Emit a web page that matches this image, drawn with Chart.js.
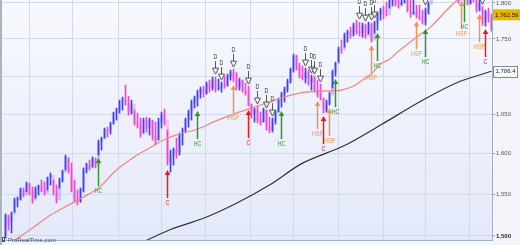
<!DOCTYPE html>
<html>
<head>
<meta charset="utf-8">
<script src="https://cdn.jsdelivr.net/npm/chart.js@4.4.0/dist/chart.umd.min.js"></script>
<style>
  html, body { margin: 0; padding: 0; background: #f3f5fb; }
  #wrap { width: 520px; height: 245px; }
</style>
</head>
<body>
<div id="wrap"><canvas id="chart" width="520" height="245"></canvas></div>
<script>
// daily bars, one entry per session
const highs = [
  1526.0, 1524.8, 1528.4, 1545.2, 1546.5, 1557.4, 1557.4, 1564.7, 1563.5, 1558.6,
  1558.6, 1561.0, 1567.2, 1564.7, 1570.8, 1575.8, 1567.2, 1561.0, 1569.6, 1579.5,
  1598.1, 1594.3, 1588.1, 1567.2, 1555.0, 1557.4, 1582.0, 1588.1, 1591.8, 1595.6,
  1594.3, 1616.9, 1620.7, 1632.2, 1633.4, 1639.8, 1652.7, 1657.9, 1668.3, 1672.2,
  1688.0, 1673.5, 1668.3, 1655.3, 1651.4, 1644.9, 1644.9, 1646.2, 1644.9, 1642.4,
  1639.8, 1644.9, 1652.7, 1656.6, 1629.6, 1604.4, 1606.9, 1619.5, 1625.9, 1632.2,
  1644.9, 1655.3, 1668.3, 1673.5, 1681.4, 1685.4, 1686.7, 1692.0, 1694.6, 1698.6,
  1698.6, 1695.9, 1692.0, 1699.9, 1702.5, 1707.9, 1709.2, 1704.6, 1697.3, 1694.6,
  1690.7, 1686.7, 1663.1, 1657.9, 1660.5, 1652.7, 1657.9, 1655.3, 1646.2, 1644.9,
  1655.3, 1670.9, 1678.7, 1685.4, 1695.9, 1710.6, 1729.4, 1728.0, 1717.3, 1713.3,
  1710.6, 1707.9, 1701.2, 1699.9, 1694.6, 1689.3, 1670.9, 1668.3, 1678.7, 1707.9,
  1718.6, 1738.9, 1748.4, 1758.1, 1762.2, 1766.3, 1771.9, 1776.0, 1773.2, 1771.9,
  1770.5, 1773.2, 1771.9, 1774.6, 1787.2, 1792.8, 1795.6, 1801.3, 1806.9, 1808.3,
  1809.7, 1806.9, 1808.3, 1811.1, 1806.9, 1804.1, 1806.9, 1797.0, 1797.0, 1790.0,
  1792.8, 1801.3, 1825.4, 1832.5, 1835.4, 1839.7, 1844.1, 1847.0, 1844.1, 1839.7,
  1835.4, 1832.5, 1832.5, 1835.4, 1825.4, 1818.2, 1821.1, 1811.1, 1804.1, 1794.2,
  1790.0, 1792.8, 1784.4
];
const lows = [
  1497.6, 1507.1, 1503.6, 1528.4, 1534.4, 1542.8, 1546.5, 1552.6, 1548.9, 1539.2,
  1545.2, 1548.9, 1552.6, 1548.9, 1555.0, 1561.0, 1548.9, 1539.2, 1557.4, 1564.7,
  1579.5, 1575.8, 1552.6, 1540.4, 1536.8, 1540.4, 1552.6, 1575.8, 1579.5, 1583.1,
  1582.0, 1598.1, 1604.4, 1619.5, 1620.7, 1624.6, 1637.3, 1642.4, 1651.4, 1655.3,
  1661.8, 1648.8, 1650.1, 1636.0, 1632.2, 1620.7, 1625.9, 1627.1, 1623.3, 1616.9,
  1610.6, 1616.9, 1632.2, 1636.0, 1585.6, 1577.0, 1585.6, 1594.3, 1598.1, 1610.6,
  1627.1, 1633.4, 1642.4, 1657.9, 1660.5, 1670.9, 1672.2, 1676.1, 1678.7, 1681.4,
  1678.7, 1681.4, 1678.7, 1684.0, 1686.7, 1694.6, 1692.0, 1681.4, 1681.4, 1678.7,
  1674.8, 1660.5, 1644.9, 1639.8, 1638.5, 1636.0, 1639.8, 1629.6, 1625.9, 1627.1,
  1637.3, 1652.7, 1659.2, 1665.7, 1678.7, 1690.7, 1705.2, 1707.9, 1697.3, 1694.6,
  1690.7, 1688.0, 1681.4, 1678.7, 1672.2, 1668.3, 1651.4, 1652.7, 1661.8, 1684.0,
  1699.9, 1718.6, 1730.2, 1738.9, 1745.7, 1751.2, 1753.9, 1756.7, 1753.9, 1752.5,
  1751.2, 1756.7, 1745.7, 1758.1, 1762.2, 1776.0, 1777.4, 1781.6, 1792.8, 1795.6,
  1795.6, 1792.8, 1797.0, 1799.8, 1787.2, 1780.2, 1784.4, 1778.8, 1776.0, 1770.5,
  1769.1, 1784.4, 1806.9, 1811.1, 1815.4, 1818.2, 1821.1, 1825.4, 1821.1, 1815.4,
  1811.1, 1799.8, 1806.9, 1816.8, 1797.0, 1798.4, 1801.3, 1787.2, 1788.6, 1769.1,
  1767.7, 1773.2, 1760.8
];
const closes = [
  1523.6, 1516.5, 1526.0, 1542.8, 1544.0, 1555.0, 1548.9, 1562.3, 1551.4, 1542.8,
  1556.2, 1559.8, 1555.0, 1551.4, 1569.6, 1573.3, 1552.6, 1542.8, 1567.2, 1577.0,
  1595.6, 1579.5, 1555.0, 1545.2, 1540.4, 1555.0, 1579.5, 1585.6, 1582.0, 1593.1,
  1585.6, 1614.4, 1618.2, 1629.6, 1628.3, 1637.3, 1650.1, 1655.3, 1665.7, 1668.3,
  1664.4, 1652.7, 1663.1, 1639.8, 1636.0, 1624.6, 1642.4, 1633.4, 1642.4, 1623.3,
  1616.9, 1639.8, 1648.8, 1642.4, 1589.3, 1598.1, 1604.4, 1601.9, 1622.0, 1629.6,
  1642.4, 1652.7, 1664.4, 1670.9, 1678.7, 1682.7, 1677.4, 1689.3, 1684.0, 1694.6,
  1682.7, 1684.0, 1688.0, 1686.7, 1699.9, 1705.2, 1694.6, 1685.4, 1694.6, 1681.4,
  1678.7, 1663.1, 1650.1, 1655.3, 1642.4, 1639.8, 1655.3, 1633.4, 1629.6, 1641.1,
  1652.7, 1668.3, 1676.1, 1682.7, 1693.3, 1707.9, 1726.6, 1713.3, 1701.2, 1697.3,
  1705.2, 1692.0, 1697.3, 1681.4, 1674.8, 1670.9, 1655.3, 1664.4, 1674.8, 1705.2,
  1716.0, 1736.1, 1734.8, 1755.3, 1759.4, 1755.3, 1769.1, 1759.4, 1758.1, 1767.7,
  1753.9, 1770.5, 1748.4, 1771.9, 1784.4, 1790.0, 1784.4, 1783.0, 1804.1, 1805.5,
  1798.4, 1795.6, 1801.3, 1802.7, 1790.0, 1783.0, 1787.2, 1781.6, 1778.8, 1773.2,
  1790.0, 1798.4, 1821.1, 1829.7, 1818.2, 1835.4, 1825.4, 1842.6, 1824.0, 1818.2,
  1815.4, 1802.7, 1825.4, 1821.1, 1799.8, 1815.4, 1804.1, 1790.0, 1799.8, 1773.2,
  1787.2, 1778.8, 1762.59
];

// moving averages: [bar index, price]
const shortAvg = [
  [3, 1495], [9, 1509.4], [15, 1524.8], [21, 1536.8], [26, 1546.5], [31, 1557.4],
  [37, 1579.5], [43, 1596], [48, 1607], [54, 1619.5], [58, 1624.6], [64, 1631],
  [70, 1641], [76, 1650], [82, 1658], [88, 1665.7], [94, 1673.5], [100, 1678.7],
  [106, 1680], [112, 1681.4], [116, 1686.7], [119, 1694.6], [122, 1703], [125, 1716],
  [128, 1722.6], [131, 1733.4], [137, 1752.5], [142, 1767.7], [148, 1794], [152, 1808],
  [157, 1815], [162, 1820]
];
const longAvg = [
  [44, 1490], [55, 1507.7], [66, 1521], [77, 1539], [88, 1561], [99, 1588],
  [113, 1610], [125, 1636], [139, 1668], [151, 1692], [162, 1706.4]
];

// signal arrows: [bar index, tip price, label]
const signals = [
  [31, 1594.3, 'HC'], [54, 1579.5, 'C'], [64, 1654.0, 'HC'], [76, 1688.0, 'HSP'],
  [81, 1655.3, 'C'], [92, 1654.0, 'HC'], [104, 1667.0, 'HSP'], [106, 1647.5, 'C'],
  [108, 1657.9, 'HSP'], [110, 1695.9, 'HC'], [122, 1741.6, 'HSP'], [124, 1758.1, 'HC'],
  [137, 1774.6, 'HSP'], [140, 1763.6, 'HC'], [152, 1802.7, 'HSP'], [153, 1812.5, 'HC'],
  [158, 1784.4, 'HSP'], [160, 1763.6, 'C']
];
// "D" markers above bars: [bar index, tip price]
const dMarks = [
  [70, 1702.5], [72, 1694.6], [76, 1711.9], [81, 1689.3], [84, 1663.1], [87, 1657.9],
  [89, 1647.5], [100, 1713.3], [102, 1703.9], [103, 1702.5], [105, 1692.0],
  [118, 1777.4], [120, 1774.6], [122, 1776.0], [123, 1778.8], [140, 1797.0], [159, 1798.4]
];

const priceTicks = [1500, 1550, 1600, 1650, 1700, 1750, 1800];
const monthLines = [1, 14.7, 30.3, 45, 59.3, 74.3, 89.3, 103, 119, 132.7, 147.3];
const lastPrice = 1762.59;
const longAvgLast = 1706.4;

const opens = closes.map((c, i) => i === 0 ? lows[0] : closes[i - 1]);
const isUp = closes.map((c, i) => c >= opens[i]);

const signalColors = { HC: '#2f962f', C: '#ee1a1a', HSP: '#f5924e' };

function condensedText(ctx, txt, x, y, size, color) {
  ctx.save();
  ctx.translate(x, y);
  ctx.scale(0.75, 1);
  ctx.font = size + 'px "Liberation Sans", Arial, sans-serif';
  ctx.textAlign = 'center';
  ctx.textBaseline = 'middle';
  ctx.fillStyle = color;
  ctx.fillText(txt, 0, 0);
  ctx.restore();
}

const backdrop = {
  id: 'backdrop',
  beforeDraw(chart) {
    const { ctx, chartArea: a, width, height } = chart;
    ctx.save();
    ctx.fillStyle = '#f3f5fb';
    ctx.fillRect(0, 0, width, height);
    const g = ctx.createLinearGradient(0, a.top, 0, a.bottom);
    g.addColorStop(0, '#f8f9fe');
    g.addColorStop(1, '#e4e9fa');
    ctx.fillStyle = g;
    ctx.fillRect(a.left, a.top, a.right - a.left, a.bottom - a.top);
    ctx.fillStyle = '#a9b3c2';
    ctx.fillRect(0, 0, 2, height);
    ctx.restore();
  }
};

const markers = {
  id: 'markers',
  afterDatasetsDraw(chart) {
    const { ctx, chartArea: a } = chart;
    const xs = chart.scales.x, ys = chart.scales.y;
    ctx.save();
    ctx.beginPath();
    ctx.rect(a.left, a.top, a.right - a.left, a.bottom - a.top);
    ctx.clip();

    // arrows with labels underneath
    signals.forEach(([i, price, label]) => {
      const x = Math.round(xs.getPixelForValue(i) - 0.5) + 0.5;
      const y = ys.getPixelForValue(price);
      const col = signalColors[label];
      ctx.strokeStyle = col;
      ctx.lineWidth = 1.5;
      ctx.beginPath();
      ctx.moveTo(x, y + 4);
      ctx.lineTo(x, y + 28);
      ctx.stroke();
      ctx.fillStyle = col;
      ctx.beginPath();
      ctx.moveTo(x, y);
      ctx.lineTo(x - 2.8, y + 5);
      ctx.lineTo(x + 2.8, y + 5);
      ctx.closePath();
      ctx.fill();
      condensedText(ctx, label, x, y + 33, 7, col);
    });

    // D markers
    dMarks.forEach(([i, price]) => {
      const x = Math.round(xs.getPixelForValue(i) - 0.5) + 0.5;
      const y = ys.getPixelForValue(price);
      ctx.strokeStyle = '#555';
      ctx.lineWidth = 1;
      ctx.beginPath();
      ctx.moveTo(x, y);
      ctx.lineTo(x - 3, y - 6);
      ctx.lineTo(x + 3, y - 6);
      ctx.closePath();
      ctx.fillStyle = 'rgba(255,255,255,0.75)';
      ctx.fill();
      ctx.stroke();
      ctx.beginPath();
      ctx.moveTo(x, y - 6);
      ctx.lineTo(x, y - 13);
      ctx.stroke();
      condensedText(ctx, 'D', x, y - 17, 7, '#333');
    });
    ctx.restore();
  },
  afterDraw(chart) {
    const { ctx } = chart;
    const ys = chart.scales.y;
    ctx.save();
    ctx.font = '6px "Liberation Sans", Arial, sans-serif';
    ctx.textBaseline = 'middle';
    ctx.textAlign = 'left';

    // long average value box
    let y = ys.getPixelForValue(longAvgLast);
    ctx.fillStyle = '#f9fafd';
    ctx.fillRect(493.5, y - 5.5, 24, 11);
    ctx.strokeStyle = '#7d8ca3';
    ctx.lineWidth = 1;
    ctx.strokeRect(493.5, Math.round(y - 5.5) + 0.5, 24, 11);
    ctx.fillStyle = '#222';
    ctx.fillText(longAvgLast.toLocaleString('en-US', { minimumFractionDigits: 1 }), 495.5, y + 0.5);

    // last price box, lifted clear of the tick labels
    y = ys.getPixelForValue(lastPrice) - 15;
    ctx.fillStyle = '#e8b500';
    ctx.fillRect(493, y - 5.5, 27, 11);
    ctx.fillStyle = '#111';
    ctx.fillText(lastPrice.toLocaleString('en-US', { minimumFractionDigits: 2 }), 495, y + 0.5);

    // watermark
    ctx.fillStyle = '#4d5566';
    ctx.fillRect(2, 237, 3, 5);
    ctx.fillStyle = '#f3f5fb';
    ctx.fillRect(3, 238, 1, 2);
    ctx.fillStyle = '#4d5566';
    ctx.fillText('ProRealTime.com', 8, 240);
    ctx.restore();
  }
};

new Chart(document.getElementById('chart'), {
  type: 'bar',
  data: {
    datasets: [
      {
        type: 'line',
        data: shortAvg.map(([i, v]) => ({ x: i, y: v })),
        borderColor: '#f0867e',
        borderWidth: 1.2,
        pointRadius: 0,
        tension: 0.35
      },
      {
        type: 'line',
        data: longAvg.map(([i, v]) => ({ x: i, y: v })),
        borderColor: '#333',
        borderWidth: 1.2,
        pointRadius: 0,
        tension: 0.3
      },
      {
        data: highs.map((h, i) => ({ x: i, y: [lows[i], h] })),
        backgroundColor: isUp.map(u => u ? '#4040f5' : '#f545c8'),
        barThickness: 1,
        grouped: false
      },
      {
        data: closes.map((c, i) => ({ x: i, y: [opens[i], c] })),
        backgroundColor: isUp.map(u => u ? 'rgba(120,120,255,0.4)' : 'rgba(255,120,215,0.4)'),
        barThickness: 2,
        grouped: false
      }
    ]
  },
  options: {
    responsive: false,
    animation: false,
    layout: { padding: { left: 3, top: 0, right: 0, bottom: 0 } },
    plugins: { legend: { display: false }, tooltip: { enabled: false } },
    scales: {
      x: {
        type: 'linear',
        min: -0.8333,
        max: 162.1667,
        offset: false,
        afterBuildTicks: s => { s.ticks = monthLines.map(v => ({ value: v })); },
        afterFit: s => { s.height = 5; s.paddingLeft = 0; s.paddingRight = 0; },
        ticks: { display: false },
        grid: { color: '#d5daeb', drawTicks: false },
        border: { color: '#a3afc2' }
      },
      y: {
        type: 'logarithmic',
        position: 'right',
        min: 1495.3,
        max: 1804.2,
        afterBuildTicks: s => { s.ticks = priceTicks.map(v => ({ value: v })); },
        afterFit: s => { s.width = 28; s.paddingTop = 0; s.paddingBottom = 0; },
        grid: { color: '#d5daeb', tickLength: 3, tickColor: '#98a4b8' },
        border: { color: '#a3afc2' },
        ticks: {
          padding: 1,
          autoSkip: false,
          color: ctx => ctx.tick && ctx.tick.value === 1500 ? '#222' : '#555',
          font: ctx => ({
            size: 6,
            family: '"Liberation Sans", Arial, sans-serif',
            weight: ctx.tick && ctx.tick.value === 1500 ? 'bold' : 'normal'
          }),
          callback: v => v.toLocaleString('en-US')
        }
      }
    }
  },
  plugins: [backdrop, markers]
});
</script>
</body>
</html>
